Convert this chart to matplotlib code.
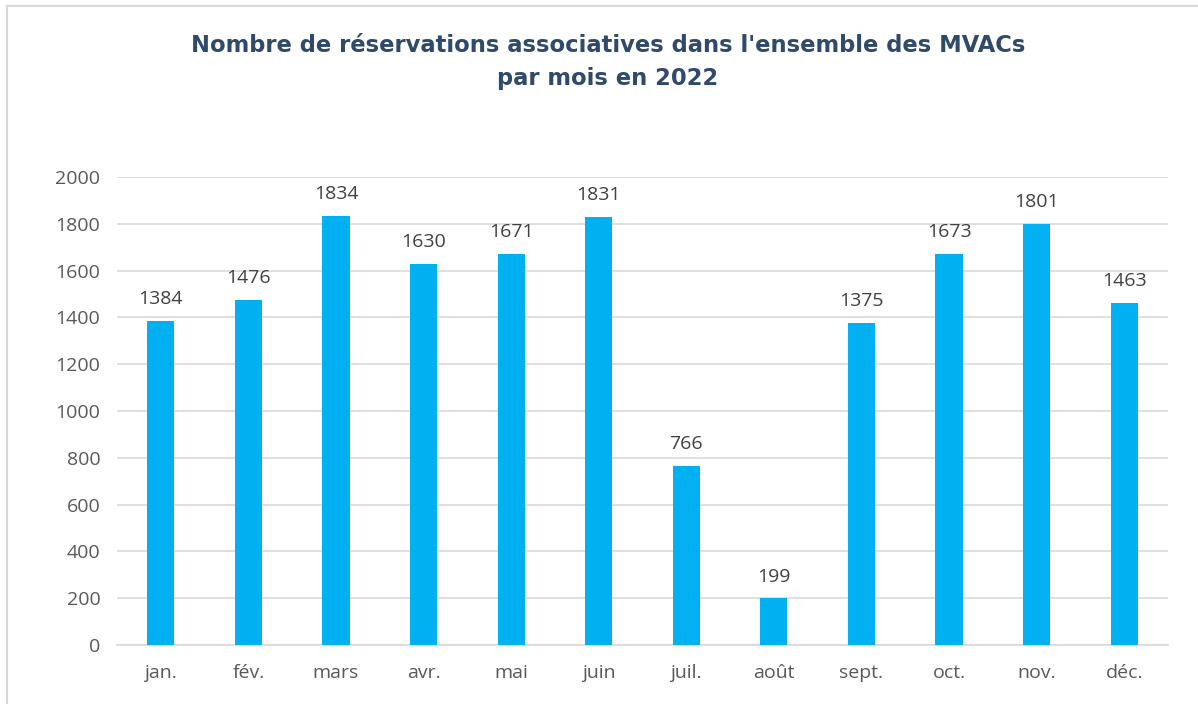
import matplotlib
matplotlib.use("Agg")
import matplotlib.pyplot as plt
from matplotlib.lines import Line2D

months = ["jan.", "fév.", "mars", "avr.", "mai", "juin", "juil.", "août",
          "sept.", "oct.", "nov.", "déc."]
reservations = [1384, 1476, 1834, 1630, 1671, 1831, 766, 199, 1375, 1673, 1801, 1463]
yticks = [0, 200, 400, 600, 800, 1000, 1200, 1400, 1600, 1800, 2000]

W, H = 1198, 704
fig = plt.figure(figsize=(W / 100, H / 100), dpi=100)
ax = fig.add_axes([117 / W, 1 - 645 / H, (1168 - 117) / W, (645 - 177) / H])

x = range(len(months))
bars = ax.bar(x, reservations, width=0.31, color="#00B0F0", zorder=3)
for xi, v in zip(x, reservations):
    ax.text(xi, v + 55, str(v), ha="center", va="bottom",
            fontsize=14, color="#404040", family="Open Sans")

ax.set_xlim(-0.5, len(months) - 0.5)
ax.set_ylim(0, 2000)
ax.set_yticks(yticks)
ax.set_xticks(list(x))
ax.set_xticklabels(months)
ax.grid(axis="y", color="#D9D9D9", linewidth=1.2, zorder=0)
for side in ["top", "right", "left"]:
    ax.spines[side].set_visible(False)
ax.spines["bottom"].set_color("#D9D9D9")
ax.spines["bottom"].set_linewidth(1.2)
ax.tick_params(length=0, labelsize=14, labelcolor="#595959", pad=12)
ax.tick_params(axis="x", pad=14)
for lbl in ax.get_xticklabels() + ax.get_yticklabels():
    lbl.set_family("Open Sans")

fig.text(608 / W, 1 - 62 / H,
         "Nombre de réservations associatives dans l'ensemble des MVACs\npar mois en 2022",
         ha="center", va="center", fontsize=16.3, fontweight="bold",
         color="#2F4A6A", family="DejaVu Sans", linespacing=1.6)

# chart frame (partly cropped)
fig.add_artist(Line2D([7 / W, 7 / W], [0, 1 - 6 / H], color="#D9D9D9", lw=1.5))
fig.add_artist(Line2D([7 / W, 1], [1 - 6 / H, 1 - 6 / H], color="#D9D9D9", lw=1.5))

fig.savefig("out.png", dpi=100, facecolor="white")
